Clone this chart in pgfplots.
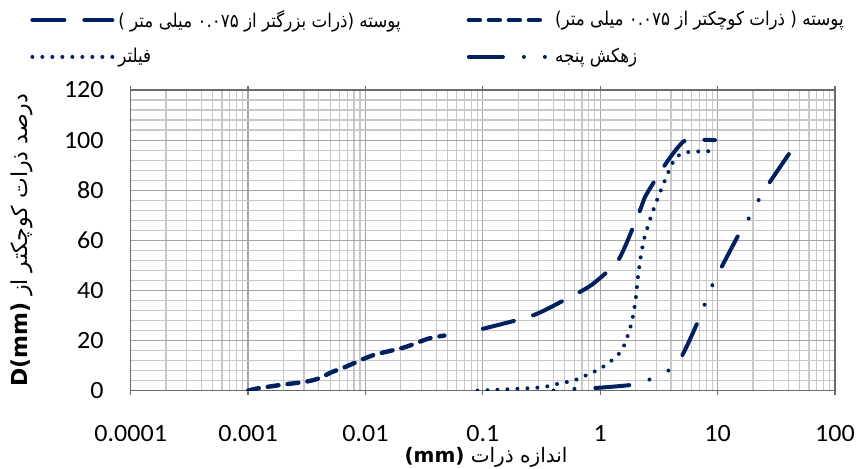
\documentclass[border=0pt]{standalone}
\usepackage{fontspec}
\usepackage{pgfplots}
\pgfplotsset{compat=1.18}
\setmainfont{Carlito}[FakeStretch=1.05]
\newfontfamily\arabicfont[Script=Arabic]{DejaVu Sans}
\newfontfamily\arabicnarrow[Script=Arabic, FakeStretch=0.88]{DejaVu Sans}
\TeXXeTstate=1
\definecolor{navy}{RGB}{0,32,96}
\definecolor{majgrid}{RGB}{165,165,165}
\definecolor{mingrid}{RGB}{200,200,200}

% line styles of the four gradation curves
\tikzset{
  coarse/.style={navy, line width=2pt, line cap=round, dash pattern=on 16pt off 10pt},
  fine/.style={navy, line width=2.2pt, line cap=round, dash pattern=on 5.5pt off 4.5pt},
  filter/.style={navy, line width=2pt, line cap=round, dash pattern=on 0pt off 5pt},
  drain/.style={navy, line width=2pt, line cap=round, dash pattern=on 0pt off 10.5pt on 0pt off 10.5pt on 17pt off 10.5pt},
}

\begin{document}
\begin{tikzpicture}
\useasboundingbox (0,0) rectangle (428.5pt,234.5pt);
\begin{axis}[
  at={(65.35pt,39.15pt)}, anchor=south west,
  scale only axis, width=352.15pt, height=150.35pt,
  xmode=log, xmin=1e-4, xmax=100, ymin=0, ymax=120,
  xtick={1e-4,1e-3,1e-2,1e-1,1,10,100},
  xticklabels={0.0001,0.001,0.01,0.1,1,10,100},
  minor xtick={2e-4,3e-4,4e-4,5e-4,6e-4,7e-4,8e-4,9e-4,
               2e-3,3e-3,4e-3,5e-3,6e-3,7e-3,8e-3,9e-3,
               2e-2,3e-2,4e-2,5e-2,6e-2,7e-2,8e-2,9e-2,
               0.2,0.3,0.4,0.5,0.6,0.7,0.8,0.9,
               2,3,4,5,6,7,8,9,
               20,30,40,50,60,70,80,90},
  ytick={0,20,...,120},
  minor ytick={4,8,12,16,24,28,32,36,44,48,52,56,64,68,72,76,84,88,92,96,104,108,112,116},
  grid=both,
  major grid style={draw=majgrid, line width=0.6pt},
  minor grid style={draw=mingrid, line width=0.6pt},
  axis line style={draw=gray!85!black, line width=0.6pt},
  tick align=outside,
  major tick length=2pt, minor tick length=0pt,
  xtick style={draw=gray!85!black, line width=0.6pt},
  ytick style={draw=none},
  /pgf/number format/assume math mode=true,
  tick label style={font=\fontsize{12.4}{14}\selectfont, text=black},
  yticklabel style={xshift=-8pt},
  xticklabel style={yshift=-12pt},
  xlabel={\arabicfont\fontsize{10}{12}\selectfont\beginR اندازه ذرات \beginL\textbf{(mm)}\endL\endR},
  xlabel style={at={(axis description cs:0.5045,-0.222)}, anchor=center},
  ylabel={\arabicfont\fontsize{11}{13}\selectfont\beginR درصد ذرات کوچکتر از \beginL\textbf{D(mm)}\endL\endR},
  ylabel style={at={(axis description cs:-0.154,0.5)}, anchor=center},
  legend columns=2,
  legend cell align=left,
  legend image code/.code={\draw[#1] (0pt,0pt) -- (40pt,0pt);},
  legend style={at={(axis description cs:-0.143,1.28)}, anchor=north west,
    draw=none, fill=none, inner sep=0pt, row sep=5pt,
    font=\arabicnarrow\fontsize{9.5}{11}\selectfont,
    /tikz/every even column/.append style={column sep=31pt}},
]
% shell, particles coarser than 0.075 mm
\addplot[coarse, smooth, tension=0.5] coordinates {
  (0.1,24.7) (0.2,28.3) (0.3,31) (0.55,37.3) (0.79,41.3) (1.0,45)
  (1.37,51) (1.62,57.3) (2.17,71.7) (2.48,78.4) (3.67,91) (4.77,98)
  (5.6,100) (9.5,100)};
\addlegendentry{\beginR پوسته (ذرات بزرگتر از ۰.۰۷۵ میلی متر )\endR}
% shell, particles finer than 0.075 mm
\addplot[fine, smooth, tension=0.5] coordinates {
  (0.001,0) (0.0012,0.9) (0.0019,2.3) (0.0032,3.7) (0.0041,5.1)
  (0.0051,7.3) (0.0066,9.3) (0.01,13) (0.0127,14.7) (0.0215,17.3)
  (0.034,20.7) (0.047,22)};
\addlegendentry{\beginR پوسته ( ذرات کوچکتر از ۰.۰۷۵ میلی متر)\endR}
% filter
\addplot[filter, smooth, tension=0.4] coordinates {
  (0.09,0) (0.15,0.5) (0.25,1) (0.33,1.4) (0.37,2) (0.45,2.9)
  (0.55,3.7) (0.67,4.9) (0.8,6.7) (0.96,8.3) (1.15,10.7) (1.33,13.1)
  (1.52,16) (1.65,19.7) (1.75,23.3) (1.87,28) (2.0,36) (2.08,44)
  (2.19,52) (2.35,60) (2.64,68) (3.02,75.6) (3.51,83.3) (4.11,90.7)
  (4.56,93.6) (5.26,95) (6.2,95.4) (9.2,95.6)};
\addlegendentry{\beginR فیلتر\endR}
% toe drain: two dots, then a long dash
\addplot[drain, smooth, tension=0.4, legend image post style={dash phase=21pt}] coordinates {
  (0.4,0) (0.59,0.7) (0.87,1) (1.82,2.3) (2.61,4.4) (3.8,8) (4.93,13.6)
  (6.75,27.3) (9.0,42) (10.8,49.3) (15,62) (18.5,68.9) (22.5,76.3)
  (27.9,83.3) (41.4,95.1)};
\addlegendentry{\beginR زهکش پنجه\endR}
\end{axis}
\end{tikzpicture}
\end{document}
